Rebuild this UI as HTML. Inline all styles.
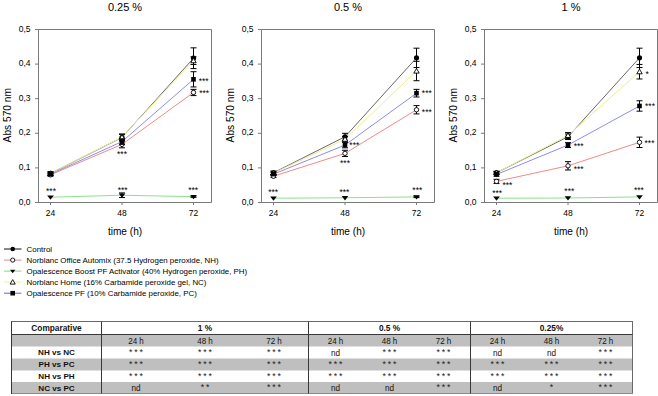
<!DOCTYPE html>
<html><head><meta charset="utf-8"><style>
html,body{margin:0;padding:0;background:#fff;width:658px;height:396px;overflow:hidden;position:relative}
</style></head><body>
<svg width="658" height="396" viewBox="0 0 658 396" style="position:absolute;left:0;top:0">
<text x="125.0" y="11" text-anchor="middle" font-size="11" fill="#000" font-family="Liberation Sans, sans-serif">0.25 %</text>
<path d="M38.5,29.5 H211.5 V202.5 H35.0 M38.5,202.5 V29.5 M35.0,29.5 H38.5" fill="none" stroke="#7a7a7a" stroke-width="1"/>
<path d="M35.0,202.5 H38.5" stroke="#7a7a7a" stroke-width="1"/>
<text x="30.5" y="204.5" text-anchor="end" font-size="8.5" fill="#000" font-family="Liberation Sans, sans-serif">0,0</text>
<path d="M35.0,167.9 H38.5" stroke="#7a7a7a" stroke-width="1"/>
<text x="30.5" y="169.9" text-anchor="end" font-size="8.5" fill="#000" font-family="Liberation Sans, sans-serif">0,1</text>
<path d="M35.0,133.3 H38.5" stroke="#7a7a7a" stroke-width="1"/>
<text x="30.5" y="135.3" text-anchor="end" font-size="8.5" fill="#000" font-family="Liberation Sans, sans-serif">0,2</text>
<path d="M35.0,98.7 H38.5" stroke="#7a7a7a" stroke-width="1"/>
<text x="30.5" y="100.7" text-anchor="end" font-size="8.5" fill="#000" font-family="Liberation Sans, sans-serif">0,3</text>
<path d="M35.0,64.1 H38.5" stroke="#7a7a7a" stroke-width="1"/>
<text x="30.5" y="66.1" text-anchor="end" font-size="8.5" fill="#000" font-family="Liberation Sans, sans-serif">0,4</text>
<path d="M35.0,29.5 H38.5" stroke="#7a7a7a" stroke-width="1"/>
<text x="30.5" y="31.5" text-anchor="end" font-size="8.5" fill="#000" font-family="Liberation Sans, sans-serif">0,5</text>
<path d="M50.5,202.5 V205.0" stroke="#7a7a7a" stroke-width="1"/>
<text x="50.5" y="216" text-anchor="middle" font-size="8.5" fill="#000" font-family="Liberation Sans, sans-serif">24</text>
<path d="M122.0,202.5 V205.0" stroke="#7a7a7a" stroke-width="1"/>
<text x="122.0" y="216" text-anchor="middle" font-size="8.5" fill="#000" font-family="Liberation Sans, sans-serif">48</text>
<path d="M193.5,202.5 V205.0" stroke="#7a7a7a" stroke-width="1"/>
<text x="193.5" y="216" text-anchor="middle" font-size="8.5" fill="#000" font-family="Liberation Sans, sans-serif">72</text>
<text x="125.0" y="235" text-anchor="middle" font-size="10.1" fill="#000" font-family="Liberation Sans, sans-serif">time (h)</text>
<text transform="translate(10.5,115.2) rotate(-90)" x="0" y="0" text-anchor="middle" font-size="10.2" fill="#000" font-family="Liberation Sans, sans-serif">Abs 570 nm</text>
<polyline points="50.5,173.44 122.0,137.45 193.5,58.22" fill="none" stroke="#686868" stroke-width="1"/>
<polyline points="50.5,174.82 122.0,144.37 193.5,92.47" fill="none" stroke="#f08a8a" stroke-width="1"/>
<polyline points="50.5,197.21 122.0,195.23 193.5,196.69" fill="none" stroke="#8ee08e" stroke-width="1"/>
<polyline points="50.5,173.44 122.0,137.11 193.5,60.64" fill="none" stroke="#eeee90" stroke-width="1"/>
<polyline points="50.5,174.13 122.0,141.60 193.5,79.32" fill="none" stroke="#8c8cf0" stroke-width="1"/>
<path d="M50.5,171.71 V175.17 M47.5,171.71 H53.5 M47.5,175.17 H53.5" stroke="#000" stroke-width="1" fill="none"/>
<path d="M122.0,133.99 V140.91 M119.0,133.99 H125.0 M119.0,140.91 H125.0" stroke="#000" stroke-width="1" fill="none"/>
<path d="M193.5,47.84 V68.60 M190.5,47.84 H196.5 M190.5,68.60 H196.5" stroke="#000" stroke-width="1" fill="none"/>
<circle cx="50.5" cy="173.44" r="2.60" fill="#000"/>
<circle cx="122.0" cy="137.45" r="2.60" fill="#000"/>
<circle cx="193.5" cy="58.22" r="2.60" fill="#000"/>
<path d="M50.5,173.44 V176.20 M47.5,173.44 H53.5 M47.5,176.20 H53.5" stroke="#000" stroke-width="1" fill="none"/>
<path d="M122.0,140.91 V147.83 M119.0,140.91 H125.0 M119.0,147.83 H125.0" stroke="#000" stroke-width="1" fill="none"/>
<path d="M193.5,89.36 V95.59 M190.5,89.36 H196.5 M190.5,95.59 H196.5" stroke="#000" stroke-width="1" fill="none"/>
<circle cx="50.5" cy="174.82" r="2.20" fill="#fff" stroke="#000" stroke-width="0.9"/>
<circle cx="122.0" cy="144.37" r="2.20" fill="#fff" stroke="#000" stroke-width="0.9"/>
<circle cx="193.5" cy="92.47" r="2.20" fill="#fff" stroke="#000" stroke-width="0.9"/>
<path d="M122.0,192.92 V197.55 M119.0,192.92 H125.0 M119.0,197.55 H125.0" stroke="#000" stroke-width="1" fill="none"/>
<path d="M193.5,196.00 V197.38 M190.5,196.00 H196.5 M190.5,197.38 H196.5" stroke="#000" stroke-width="1" fill="none"/>
<path d="M47.20,195.51 L53.80,195.51 L50.5,199.81 Z" fill="#000"/>
<path d="M118.70,193.53 L125.30,193.53 L122.0,197.83 Z" fill="#000"/>
<path d="M190.20,194.99 L196.80,194.99 L193.5,199.29 Z" fill="#000"/>
<path d="M50.5,172.05 V174.82 M47.5,172.05 H53.5 M47.5,174.82 H53.5" stroke="#000" stroke-width="1" fill="none"/>
<path d="M122.0,134.34 V139.87 M119.0,134.34 H125.0 M119.0,139.87 H125.0" stroke="#000" stroke-width="1" fill="none"/>
<path d="M193.5,56.83 V64.45 M190.5,56.83 H196.5 M190.5,64.45 H196.5" stroke="#000" stroke-width="1" fill="none"/>
<path d="M47.80,175.54 L53.20,175.54 L50.5,170.84 Z" fill="#fff" stroke="#000" stroke-width="0.9"/>
<path d="M119.30,139.21 L124.70,139.21 L122.0,134.51 Z" fill="#fff" stroke="#000" stroke-width="0.9"/>
<path d="M190.80,62.74 L196.20,62.74 L193.5,58.04 Z" fill="#fff" stroke="#000" stroke-width="0.9"/>
<path d="M50.5,172.74 V175.51 M47.5,172.74 H53.5 M47.5,175.51 H53.5" stroke="#000" stroke-width="1" fill="none"/>
<path d="M122.0,138.84 V144.37 M119.0,138.84 H125.0 M119.0,144.37 H125.0" stroke="#000" stroke-width="1" fill="none"/>
<path d="M193.5,71.71 V86.94 M190.5,71.71 H196.5 M190.5,86.94 H196.5" stroke="#000" stroke-width="1" fill="none"/>
<rect x="48.20" y="171.83" width="4.60" height="4.60" fill="#000"/>
<rect x="119.70" y="139.30" width="4.60" height="4.60" fill="#000"/>
<rect x="191.20" y="77.02" width="4.60" height="4.60" fill="#000"/>
<text x="348.0" y="11" text-anchor="middle" font-size="11" fill="#000" font-family="Liberation Sans, sans-serif">0.5 %</text>
<path d="M261.5,29.5 H434.5 V202.5 H258.0 M261.5,202.5 V29.5 M258.0,29.5 H261.5" fill="none" stroke="#7a7a7a" stroke-width="1"/>
<path d="M258.0,202.5 H261.5" stroke="#7a7a7a" stroke-width="1"/>
<text x="253.5" y="204.5" text-anchor="end" font-size="8.5" fill="#000" font-family="Liberation Sans, sans-serif">0,0</text>
<path d="M258.0,167.9 H261.5" stroke="#7a7a7a" stroke-width="1"/>
<text x="253.5" y="169.9" text-anchor="end" font-size="8.5" fill="#000" font-family="Liberation Sans, sans-serif">0,1</text>
<path d="M258.0,133.3 H261.5" stroke="#7a7a7a" stroke-width="1"/>
<text x="253.5" y="135.3" text-anchor="end" font-size="8.5" fill="#000" font-family="Liberation Sans, sans-serif">0,2</text>
<path d="M258.0,98.7 H261.5" stroke="#7a7a7a" stroke-width="1"/>
<text x="253.5" y="100.7" text-anchor="end" font-size="8.5" fill="#000" font-family="Liberation Sans, sans-serif">0,3</text>
<path d="M258.0,64.1 H261.5" stroke="#7a7a7a" stroke-width="1"/>
<text x="253.5" y="66.1" text-anchor="end" font-size="8.5" fill="#000" font-family="Liberation Sans, sans-serif">0,4</text>
<path d="M258.0,29.5 H261.5" stroke="#7a7a7a" stroke-width="1"/>
<text x="253.5" y="31.5" text-anchor="end" font-size="8.5" fill="#000" font-family="Liberation Sans, sans-serif">0,5</text>
<path d="M273.5,202.5 V205.0" stroke="#7a7a7a" stroke-width="1"/>
<text x="273.5" y="216" text-anchor="middle" font-size="8.5" fill="#000" font-family="Liberation Sans, sans-serif">24</text>
<path d="M345.0,202.5 V205.0" stroke="#7a7a7a" stroke-width="1"/>
<text x="345.0" y="216" text-anchor="middle" font-size="8.5" fill="#000" font-family="Liberation Sans, sans-serif">48</text>
<path d="M416.5,202.5 V205.0" stroke="#7a7a7a" stroke-width="1"/>
<text x="416.5" y="216" text-anchor="middle" font-size="8.5" fill="#000" font-family="Liberation Sans, sans-serif">72</text>
<text x="348.0" y="235" text-anchor="middle" font-size="10.1" fill="#000" font-family="Liberation Sans, sans-serif">time (h)</text>
<text transform="translate(233.5,115.2) rotate(-90)" x="0" y="0" text-anchor="middle" font-size="10.2" fill="#000" font-family="Liberation Sans, sans-serif">Abs 570 nm</text>
<polyline points="273.5,172.74 345.0,136.76 416.5,57.87" fill="none" stroke="#686868" stroke-width="1"/>
<polyline points="273.5,176.20 345.0,153.37 416.5,109.77" fill="none" stroke="#f08a8a" stroke-width="1"/>
<polyline points="273.5,198.21 345.0,197.79 416.5,196.89" fill="none" stroke="#8ee08e" stroke-width="1"/>
<polyline points="273.5,173.09 345.0,139.18 416.5,71.02" fill="none" stroke="#eeee90" stroke-width="1"/>
<polyline points="273.5,174.13 345.0,145.06 416.5,93.16" fill="none" stroke="#8c8cf0" stroke-width="1"/>
<path d="M273.5,171.01 V174.47 M270.5,171.01 H276.5 M270.5,174.47 H276.5" stroke="#000" stroke-width="1" fill="none"/>
<path d="M345.0,133.30 V140.22 M342.0,133.30 H348.0 M342.0,140.22 H348.0" stroke="#000" stroke-width="1" fill="none"/>
<path d="M416.5,48.18 V67.56 M413.5,48.18 H419.5 M413.5,67.56 H419.5" stroke="#000" stroke-width="1" fill="none"/>
<circle cx="273.5" cy="172.74" r="2.60" fill="#000"/>
<circle cx="345.0" cy="136.76" r="2.60" fill="#000"/>
<circle cx="416.5" cy="57.87" r="2.60" fill="#000"/>
<path d="M273.5,174.82 V177.59 M270.5,174.82 H276.5 M270.5,177.59 H276.5" stroke="#000" stroke-width="1" fill="none"/>
<path d="M345.0,150.25 V156.48 M342.0,150.25 H348.0 M342.0,156.48 H348.0" stroke="#000" stroke-width="1" fill="none"/>
<path d="M416.5,105.62 V113.92 M413.5,105.62 H419.5 M413.5,113.92 H419.5" stroke="#000" stroke-width="1" fill="none"/>
<circle cx="273.5" cy="176.2" r="2.20" fill="#fff" stroke="#000" stroke-width="0.9"/>
<circle cx="345.0" cy="153.37" r="2.20" fill="#fff" stroke="#000" stroke-width="0.9"/>
<circle cx="416.5" cy="109.77" r="2.20" fill="#fff" stroke="#000" stroke-width="0.9"/>
<path d="M416.5,196.20 V197.59 M413.5,196.20 H419.5 M413.5,197.59 H419.5" stroke="#000" stroke-width="1" fill="none"/>
<path d="M270.20,196.51 L276.80,196.51 L273.5,200.81 Z" fill="#000"/>
<path d="M341.70,196.09 L348.30,196.09 L345.0,200.39 Z" fill="#000"/>
<path d="M413.20,195.19 L419.80,195.19 L416.5,199.49 Z" fill="#000"/>
<path d="M273.5,171.71 V174.47 M270.5,171.71 H276.5 M270.5,174.47 H276.5" stroke="#000" stroke-width="1" fill="none"/>
<path d="M345.0,136.41 V141.95 M342.0,136.41 H348.0 M342.0,141.95 H348.0" stroke="#000" stroke-width="1" fill="none"/>
<path d="M416.5,61.33 V80.71 M413.5,61.33 H419.5 M413.5,80.71 H419.5" stroke="#000" stroke-width="1" fill="none"/>
<path d="M270.80,175.19 L276.20,175.19 L273.5,170.49 Z" fill="#fff" stroke="#000" stroke-width="0.9"/>
<path d="M342.30,141.28 L347.70,141.28 L345.0,136.58 Z" fill="#fff" stroke="#000" stroke-width="0.9"/>
<path d="M413.80,73.12 L419.20,73.12 L416.5,68.42 Z" fill="#fff" stroke="#000" stroke-width="0.9"/>
<path d="M273.5,172.74 V175.51 M270.5,172.74 H276.5 M270.5,175.51 H276.5" stroke="#000" stroke-width="1" fill="none"/>
<path d="M345.0,142.30 V147.83 M342.0,142.30 H348.0 M342.0,147.83 H348.0" stroke="#000" stroke-width="1" fill="none"/>
<path d="M416.5,89.36 V96.97 M413.5,89.36 H419.5 M413.5,96.97 H419.5" stroke="#000" stroke-width="1" fill="none"/>
<rect x="271.20" y="171.83" width="4.60" height="4.60" fill="#000"/>
<rect x="342.70" y="142.76" width="4.60" height="4.60" fill="#000"/>
<rect x="414.20" y="90.86" width="4.60" height="4.60" fill="#000"/>
<text x="571.0" y="11" text-anchor="middle" font-size="11" fill="#000" font-family="Liberation Sans, sans-serif">1 %</text>
<path d="M484.5,29.5 H657.5 V202.5 H481.0 M484.5,202.5 V29.5 M481.0,29.5 H484.5" fill="none" stroke="#7a7a7a" stroke-width="1"/>
<path d="M481.0,202.5 H484.5" stroke="#7a7a7a" stroke-width="1"/>
<text x="476.5" y="204.5" text-anchor="end" font-size="8.5" fill="#000" font-family="Liberation Sans, sans-serif">0,0</text>
<path d="M481.0,167.9 H484.5" stroke="#7a7a7a" stroke-width="1"/>
<text x="476.5" y="169.9" text-anchor="end" font-size="8.5" fill="#000" font-family="Liberation Sans, sans-serif">0,1</text>
<path d="M481.0,133.3 H484.5" stroke="#7a7a7a" stroke-width="1"/>
<text x="476.5" y="135.3" text-anchor="end" font-size="8.5" fill="#000" font-family="Liberation Sans, sans-serif">0,2</text>
<path d="M481.0,98.7 H484.5" stroke="#7a7a7a" stroke-width="1"/>
<text x="476.5" y="100.7" text-anchor="end" font-size="8.5" fill="#000" font-family="Liberation Sans, sans-serif">0,3</text>
<path d="M481.0,64.1 H484.5" stroke="#7a7a7a" stroke-width="1"/>
<text x="476.5" y="66.1" text-anchor="end" font-size="8.5" fill="#000" font-family="Liberation Sans, sans-serif">0,4</text>
<path d="M481.0,29.5 H484.5" stroke="#7a7a7a" stroke-width="1"/>
<text x="476.5" y="31.5" text-anchor="end" font-size="8.5" fill="#000" font-family="Liberation Sans, sans-serif">0,5</text>
<path d="M496.5,202.5 V205.0" stroke="#7a7a7a" stroke-width="1"/>
<text x="496.5" y="216" text-anchor="middle" font-size="8.5" fill="#000" font-family="Liberation Sans, sans-serif">24</text>
<path d="M568.0,202.5 V205.0" stroke="#7a7a7a" stroke-width="1"/>
<text x="568.0" y="216" text-anchor="middle" font-size="8.5" fill="#000" font-family="Liberation Sans, sans-serif">48</text>
<path d="M639.5,202.5 V205.0" stroke="#7a7a7a" stroke-width="1"/>
<text x="639.5" y="216" text-anchor="middle" font-size="8.5" fill="#000" font-family="Liberation Sans, sans-serif">72</text>
<text x="571.0" y="235" text-anchor="middle" font-size="10.1" fill="#000" font-family="Liberation Sans, sans-serif">time (h)</text>
<text transform="translate(456.5,115.2) rotate(-90)" x="0" y="0" text-anchor="middle" font-size="10.2" fill="#000" font-family="Liberation Sans, sans-serif">Abs 570 nm</text>
<polyline points="496.5,172.74 568.0,136.76 639.5,57.87" fill="none" stroke="#686868" stroke-width="1"/>
<polyline points="496.5,181.39 568.0,165.82 639.5,142.30" fill="none" stroke="#f08a8a" stroke-width="1"/>
<polyline points="496.5,198.21 568.0,198.00 639.5,196.89" fill="none" stroke="#8ee08e" stroke-width="1"/>
<polyline points="496.5,172.74 568.0,135.38 639.5,71.71" fill="none" stroke="#eeee90" stroke-width="1"/>
<polyline points="496.5,174.47 568.0,145.06 639.5,105.97" fill="none" stroke="#8c8cf0" stroke-width="1"/>
<path d="M496.5,171.36 V174.13 M493.5,171.36 H499.5 M493.5,174.13 H499.5" stroke="#000" stroke-width="1" fill="none"/>
<path d="M568.0,133.99 V139.53 M565.0,133.99 H571.0 M565.0,139.53 H571.0" stroke="#000" stroke-width="1" fill="none"/>
<path d="M639.5,48.18 V67.56 M636.5,48.18 H642.5 M636.5,67.56 H642.5" stroke="#000" stroke-width="1" fill="none"/>
<circle cx="496.5" cy="172.74" r="2.60" fill="#000"/>
<circle cx="568.0" cy="136.76" r="2.60" fill="#000"/>
<circle cx="639.5" cy="57.87" r="2.60" fill="#000"/>
<path d="M496.5,179.32 V183.47 M493.5,179.32 H499.5 M493.5,183.47 H499.5" stroke="#000" stroke-width="1" fill="none"/>
<path d="M568.0,161.67 V169.98 M565.0,161.67 H571.0 M565.0,169.98 H571.0" stroke="#000" stroke-width="1" fill="none"/>
<path d="M639.5,137.11 V147.49 M636.5,137.11 H642.5 M636.5,147.49 H642.5" stroke="#000" stroke-width="1" fill="none"/>
<circle cx="496.5" cy="181.39" r="2.20" fill="#fff" stroke="#000" stroke-width="0.9"/>
<circle cx="568.0" cy="165.82" r="2.20" fill="#fff" stroke="#000" stroke-width="0.9"/>
<circle cx="639.5" cy="142.3" r="2.20" fill="#fff" stroke="#000" stroke-width="0.9"/>
<path d="M493.20,196.51 L499.80,196.51 L496.5,200.81 Z" fill="#000"/>
<path d="M564.70,196.30 L571.30,196.30 L568.0,200.60 Z" fill="#000"/>
<path d="M636.20,195.19 L642.80,195.19 L639.5,199.49 Z" fill="#000"/>
<path d="M496.5,171.36 V174.13 M493.5,171.36 H499.5 M493.5,174.13 H499.5" stroke="#000" stroke-width="1" fill="none"/>
<path d="M568.0,132.61 V138.14 M565.0,132.61 H571.0 M565.0,138.14 H571.0" stroke="#000" stroke-width="1" fill="none"/>
<path d="M639.5,64.45 V78.98 M636.5,64.45 H642.5 M636.5,78.98 H642.5" stroke="#000" stroke-width="1" fill="none"/>
<path d="M493.80,174.84 L499.20,174.84 L496.5,170.14 Z" fill="#fff" stroke="#000" stroke-width="0.9"/>
<path d="M565.30,137.48 L570.70,137.48 L568.0,132.78 Z" fill="#fff" stroke="#000" stroke-width="0.9"/>
<path d="M636.80,73.81 L642.20,73.81 L639.5,69.11 Z" fill="#fff" stroke="#000" stroke-width="0.9"/>
<path d="M496.5,172.74 V176.20 M493.5,172.74 H499.5 M493.5,176.20 H499.5" stroke="#000" stroke-width="1" fill="none"/>
<path d="M568.0,142.64 V147.49 M565.0,142.64 H571.0 M565.0,147.49 H571.0" stroke="#000" stroke-width="1" fill="none"/>
<path d="M639.5,100.78 V111.16 M636.5,100.78 H642.5 M636.5,111.16 H642.5" stroke="#000" stroke-width="1" fill="none"/>
<rect x="494.20" y="172.17" width="4.60" height="4.60" fill="#000"/>
<rect x="565.70" y="142.76" width="4.60" height="4.60" fill="#000"/>
<rect x="637.20" y="103.67" width="4.60" height="4.60" fill="#000"/>
<text x="51.0" y="194" text-anchor="middle" font-size="8.5" fill="#000" font-family="Liberation Sans, sans-serif">***</text>
<text x="122.6" y="193" text-anchor="middle" font-size="8.5" fill="#000" font-family="Liberation Sans, sans-serif">***</text>
<text x="193.2" y="193" text-anchor="middle" font-size="8.5" fill="#000" font-family="Liberation Sans, sans-serif">***</text>
<text x="122.0" y="157" text-anchor="middle" font-size="8.5" fill="#000" font-family="Liberation Sans, sans-serif">***</text>
<text x="203.6" y="84" text-anchor="middle" font-size="8.5" fill="#000" font-family="Liberation Sans, sans-serif">***</text>
<text x="204.2" y="96" text-anchor="middle" font-size="8.5" fill="#000" font-family="Liberation Sans, sans-serif">***</text>
<text x="273.1" y="195" text-anchor="middle" font-size="8.5" fill="#000" font-family="Liberation Sans, sans-serif">***</text>
<text x="344.4" y="195" text-anchor="middle" font-size="8.5" fill="#000" font-family="Liberation Sans, sans-serif">***</text>
<text x="417.3" y="193" text-anchor="middle" font-size="8.5" fill="#000" font-family="Liberation Sans, sans-serif">***</text>
<text x="354.3" y="148" text-anchor="middle" font-size="8.5" fill="#000" font-family="Liberation Sans, sans-serif">***</text>
<text x="345.0" y="166" text-anchor="middle" font-size="8.5" fill="#000" font-family="Liberation Sans, sans-serif">***</text>
<text x="426.8" y="96" text-anchor="middle" font-size="8.5" fill="#000" font-family="Liberation Sans, sans-serif">***</text>
<text x="426.8" y="115" text-anchor="middle" font-size="8.5" fill="#000" font-family="Liberation Sans, sans-serif">***</text>
<text x="497.1" y="196" text-anchor="middle" font-size="8.5" fill="#000" font-family="Liberation Sans, sans-serif">***</text>
<text x="569.3" y="194" text-anchor="middle" font-size="8.5" fill="#000" font-family="Liberation Sans, sans-serif">***</text>
<text x="638.9" y="193" text-anchor="middle" font-size="8.5" fill="#000" font-family="Liberation Sans, sans-serif">***</text>
<text x="507.4" y="188" text-anchor="middle" font-size="8.5" fill="#000" font-family="Liberation Sans, sans-serif">***</text>
<text x="578.6" y="149" text-anchor="middle" font-size="8.5" fill="#000" font-family="Liberation Sans, sans-serif">***</text>
<text x="578.6" y="172" text-anchor="middle" font-size="8.5" fill="#000" font-family="Liberation Sans, sans-serif">***</text>
<text x="647.1" y="77" text-anchor="middle" font-size="8.5" fill="#000" font-family="Liberation Sans, sans-serif">*</text>
<text x="650.0" y="109" text-anchor="middle" font-size="8.5" fill="#000" font-family="Liberation Sans, sans-serif">***</text>
<text x="649.5" y="146" text-anchor="middle" font-size="8.5" fill="#000" font-family="Liberation Sans, sans-serif">***</text>
<path d="M4,249.0 H21.5" stroke="#111" stroke-width="1"/>
<circle cx="12.7" cy="249.0" r="2.29" fill="#000"/>
<text x="26.6" y="251.9" font-size="7.9" fill="#000" font-family="Liberation Sans, sans-serif">Control</text>
<path d="M4,260.1 H21.5" stroke="#e08888" stroke-width="1"/>
<circle cx="12.7" cy="260.1" r="2.09" fill="#fff" stroke="#000" stroke-width="0.9"/>
<text x="26.6" y="262.9" font-size="7.9" fill="#000" font-family="Liberation Sans, sans-serif">Norblanc Office Automix (37.5 Hydrogen peroxide, NH)</text>
<path d="M4,271.1 H21.5" stroke="#80d880" stroke-width="1"/>
<path d="M10.06,269.74 L15.34,269.74 L12.7,273.18 Z" fill="#000"/>
<text x="26.6" y="274.0" font-size="7.9" fill="#000" font-family="Liberation Sans, sans-serif">Opalescence Boost PF Activator (40% Hydrogen peroxide, PH)</text>
<path d="M4,282.1 H21.5" stroke="#f0f0a0" stroke-width="1"/>
<path d="M10.13,284.10 L15.26,284.10 L12.7,279.63 Z" fill="#fff" stroke="#000" stroke-width="0.9"/>
<text x="26.6" y="285.0" font-size="7.9" fill="#000" font-family="Liberation Sans, sans-serif">Norblanc Home (16% Carbamide peroxide gel, NC)</text>
<path d="M4,293.2 H21.5" stroke="#6868c0" stroke-width="1"/>
<rect x="10.40" y="290.90" width="4.60" height="4.60" fill="#000"/>
<text x="26.6" y="296.1" font-size="7.9" fill="#000" font-family="Liberation Sans, sans-serif">Opalescence PF (10% Carbamide peroxide, PC)</text>
</svg>
<svg width="658" height="396" viewBox="0 0 658 396" style="position:absolute;left:0;top:0">
<rect x="11.5" y="334.5" width="621.0" height="12.0" fill="#bfbfbf"/>
<rect x="11.5" y="358.5" width="621.0" height="12.0" fill="#bfbfbf"/>
<rect x="11.5" y="382" width="621.0" height="11.5" fill="#bfbfbf"/>
<path d="M11.0,321.5 H633.0 M632.5,321.5 V393.5" fill="none" stroke="#6a6a6a" stroke-width="1"/>
<path d="M11.5,393.5 H633.0" fill="none" stroke="#8c8c8c" stroke-width="1"/>
<path d="M11.5,321.5 V394.0 M11.5,334.5 H632.5 M101.5,321.5 V393.5 M308.5,321.5 V393.5 M470.5,321.5 V393.5" fill="none" stroke="#383838" stroke-width="1"/>
<text x="56.5" y="331" text-anchor="middle" font-size="8.3" font-weight="bold"  fill="#111" font-family="Liberation Sans, sans-serif">Comparative</text>
<text x="205.0" y="331" text-anchor="middle" font-size="8.3" font-weight="bold"  fill="#111" font-family="Liberation Sans, sans-serif">1 %</text>
<text x="136.0" y="343.8" text-anchor="middle" font-size="8.7"  textLength="15.6" lengthAdjust="spacingAndGlyphs" fill="#111" font-family="Liberation Sans, sans-serif">24 h</text>
<text x="205.0" y="343.8" text-anchor="middle" font-size="8.7"  textLength="15.6" lengthAdjust="spacingAndGlyphs" fill="#111" font-family="Liberation Sans, sans-serif">48 h</text>
<text x="274.0" y="343.8" text-anchor="middle" font-size="8.7"  textLength="15.6" lengthAdjust="spacingAndGlyphs" fill="#111" font-family="Liberation Sans, sans-serif">72 h</text>
<text x="389.5" y="331" text-anchor="middle" font-size="8.3" font-weight="bold"  fill="#111" font-family="Liberation Sans, sans-serif">0.5 %</text>
<text x="335.5" y="343.8" text-anchor="middle" font-size="8.7"  textLength="15.6" lengthAdjust="spacingAndGlyphs" fill="#111" font-family="Liberation Sans, sans-serif">24 h</text>
<text x="389.5" y="343.8" text-anchor="middle" font-size="8.7"  textLength="15.6" lengthAdjust="spacingAndGlyphs" fill="#111" font-family="Liberation Sans, sans-serif">48 h</text>
<text x="443.5" y="343.8" text-anchor="middle" font-size="8.7"  textLength="15.6" lengthAdjust="spacingAndGlyphs" fill="#111" font-family="Liberation Sans, sans-serif">72 h</text>
<text x="551.5" y="331" text-anchor="middle" font-size="8.3" font-weight="bold"  fill="#111" font-family="Liberation Sans, sans-serif">0.25%</text>
<text x="497.5" y="343.8" text-anchor="middle" font-size="8.7"  textLength="15.6" lengthAdjust="spacingAndGlyphs" fill="#111" font-family="Liberation Sans, sans-serif">24 h</text>
<text x="551.5" y="343.8" text-anchor="middle" font-size="8.7"  textLength="15.6" lengthAdjust="spacingAndGlyphs" fill="#111" font-family="Liberation Sans, sans-serif">48 h</text>
<text x="605.5" y="343.8" text-anchor="middle" font-size="8.7"  textLength="15.6" lengthAdjust="spacingAndGlyphs" fill="#111" font-family="Liberation Sans, sans-serif">72 h</text>
<text x="56.5" y="355.3" text-anchor="middle" font-size="8.1" font-weight="bold"  fill="#111" font-family="Liberation Sans, sans-serif">NH vs NC</text>
<text x="136.9" y="354.9" text-anchor="middle" font-size="8.8" letter-spacing="1.8" fill="#222" font-family="Liberation Sans, sans-serif">***</text>
<text x="205.9" y="354.9" text-anchor="middle" font-size="8.8" letter-spacing="1.8" fill="#222" font-family="Liberation Sans, sans-serif">***</text>
<text x="274.9" y="354.9" text-anchor="middle" font-size="8.8" letter-spacing="1.8" fill="#222" font-family="Liberation Sans, sans-serif">***</text>
<text x="335.5" y="355.5" text-anchor="middle" font-size="8.2"   fill="#111" font-family="Liberation Sans, sans-serif">nd</text>
<text x="390.4" y="354.9" text-anchor="middle" font-size="8.8" letter-spacing="1.8" fill="#222" font-family="Liberation Sans, sans-serif">***</text>
<text x="444.4" y="354.9" text-anchor="middle" font-size="8.8" letter-spacing="1.8" fill="#222" font-family="Liberation Sans, sans-serif">***</text>
<text x="497.5" y="355.5" text-anchor="middle" font-size="8.2"   fill="#111" font-family="Liberation Sans, sans-serif">nd</text>
<text x="551.5" y="355.5" text-anchor="middle" font-size="8.2"   fill="#111" font-family="Liberation Sans, sans-serif">nd</text>
<text x="606.4" y="354.9" text-anchor="middle" font-size="8.8" letter-spacing="1.8" fill="#222" font-family="Liberation Sans, sans-serif">***</text>
<text x="56.5" y="367.3" text-anchor="middle" font-size="8.1" font-weight="bold"  fill="#111" font-family="Liberation Sans, sans-serif">PH vs PC</text>
<text x="136.9" y="366.9" text-anchor="middle" font-size="8.8" letter-spacing="1.8" fill="#222" font-family="Liberation Sans, sans-serif">***</text>
<text x="205.9" y="366.9" text-anchor="middle" font-size="8.8" letter-spacing="1.8" fill="#222" font-family="Liberation Sans, sans-serif">***</text>
<text x="274.9" y="366.9" text-anchor="middle" font-size="8.8" letter-spacing="1.8" fill="#222" font-family="Liberation Sans, sans-serif">***</text>
<text x="336.4" y="366.9" text-anchor="middle" font-size="8.8" letter-spacing="1.8" fill="#222" font-family="Liberation Sans, sans-serif">***</text>
<text x="390.4" y="366.9" text-anchor="middle" font-size="8.8" letter-spacing="1.8" fill="#222" font-family="Liberation Sans, sans-serif">***</text>
<text x="444.4" y="366.9" text-anchor="middle" font-size="8.8" letter-spacing="1.8" fill="#222" font-family="Liberation Sans, sans-serif">***</text>
<text x="498.4" y="366.9" text-anchor="middle" font-size="8.8" letter-spacing="1.8" fill="#222" font-family="Liberation Sans, sans-serif">***</text>
<text x="552.4" y="366.9" text-anchor="middle" font-size="8.8" letter-spacing="1.8" fill="#222" font-family="Liberation Sans, sans-serif">***</text>
<text x="606.4" y="366.9" text-anchor="middle" font-size="8.8" letter-spacing="1.8" fill="#222" font-family="Liberation Sans, sans-serif">***</text>
<text x="56.5" y="379.3" text-anchor="middle" font-size="8.1" font-weight="bold"  fill="#111" font-family="Liberation Sans, sans-serif">NH vs PH</text>
<text x="136.9" y="378.9" text-anchor="middle" font-size="8.8" letter-spacing="1.8" fill="#222" font-family="Liberation Sans, sans-serif">***</text>
<text x="205.9" y="378.9" text-anchor="middle" font-size="8.8" letter-spacing="1.8" fill="#222" font-family="Liberation Sans, sans-serif">***</text>
<text x="274.9" y="378.9" text-anchor="middle" font-size="8.8" letter-spacing="1.8" fill="#222" font-family="Liberation Sans, sans-serif">***</text>
<text x="336.4" y="378.9" text-anchor="middle" font-size="8.8" letter-spacing="1.8" fill="#222" font-family="Liberation Sans, sans-serif">***</text>
<text x="390.4" y="378.9" text-anchor="middle" font-size="8.8" letter-spacing="1.8" fill="#222" font-family="Liberation Sans, sans-serif">***</text>
<text x="444.4" y="378.9" text-anchor="middle" font-size="8.8" letter-spacing="1.8" fill="#222" font-family="Liberation Sans, sans-serif">***</text>
<text x="498.4" y="378.9" text-anchor="middle" font-size="8.8" letter-spacing="1.8" fill="#222" font-family="Liberation Sans, sans-serif">***</text>
<text x="552.4" y="378.9" text-anchor="middle" font-size="8.8" letter-spacing="1.8" fill="#222" font-family="Liberation Sans, sans-serif">***</text>
<text x="606.4" y="378.9" text-anchor="middle" font-size="8.8" letter-spacing="1.8" fill="#222" font-family="Liberation Sans, sans-serif">***</text>
<text x="56.5" y="390.8" text-anchor="middle" font-size="8.1" font-weight="bold"  fill="#111" font-family="Liberation Sans, sans-serif">NC vs PC</text>
<text x="136.0" y="391" text-anchor="middle" font-size="8.2"   fill="#111" font-family="Liberation Sans, sans-serif">nd</text>
<text x="205.9" y="390.4" text-anchor="middle" font-size="8.8" letter-spacing="1.8" fill="#222" font-family="Liberation Sans, sans-serif">**</text>
<text x="274.9" y="390.4" text-anchor="middle" font-size="8.8" letter-spacing="1.8" fill="#222" font-family="Liberation Sans, sans-serif">***</text>
<text x="335.5" y="391" text-anchor="middle" font-size="8.2"   fill="#111" font-family="Liberation Sans, sans-serif">nd</text>
<text x="389.5" y="391" text-anchor="middle" font-size="8.2"   fill="#111" font-family="Liberation Sans, sans-serif">nd</text>
<text x="444.4" y="390.4" text-anchor="middle" font-size="8.8" letter-spacing="1.8" fill="#222" font-family="Liberation Sans, sans-serif">***</text>
<text x="497.5" y="391" text-anchor="middle" font-size="8.2"   fill="#111" font-family="Liberation Sans, sans-serif">nd</text>
<text x="552.4" y="390.4" text-anchor="middle" font-size="8.8" letter-spacing="1.8" fill="#222" font-family="Liberation Sans, sans-serif">*</text>
<text x="606.4" y="390.4" text-anchor="middle" font-size="8.8" letter-spacing="1.8" fill="#222" font-family="Liberation Sans, sans-serif">***</text>
</svg>
</body></html>
